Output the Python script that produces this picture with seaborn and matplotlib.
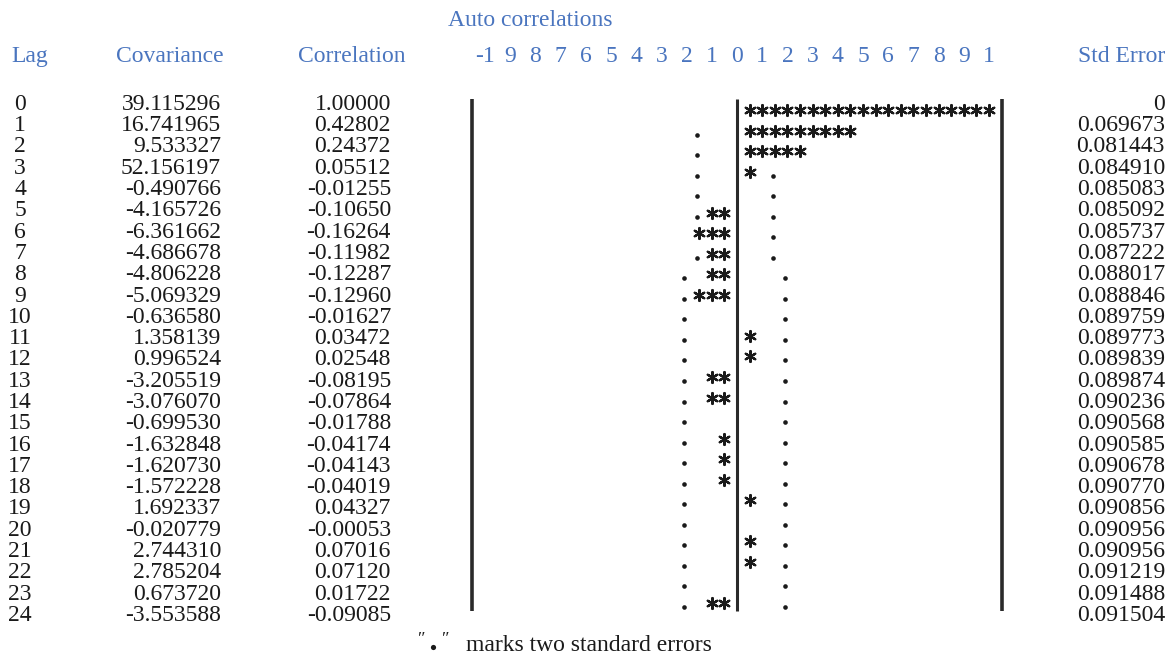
import numpy as np
import pandas as pd
import matplotlib
matplotlib.use("Agg")
import matplotlib.pyplot as plt
import seaborn as sns

# ---------------- data ----------------
lags = list(range(25))
covariance = ["39.115296", "16.741965", "9.533327", "52.156197", "-0.490766",
              "-4.165726", "-6.361662", "-4.686678", "-4.806228", "-5.069329",
              "-0.636580", "1.358139", "0.996524", "-3.205519", "-3.076070",
              "-0.699530", "-1.632848", "-1.620730", "-1.572228", "1.692337",
              "-0.020779", "2.744310", "2.785204", "0.673720", "-3.553588"]
correlation = [1.00000, 0.42802, 0.24372, 0.05512, -0.01255, -0.10650, -0.16264,
               -0.11982, -0.12287, -0.12960, -0.01627, 0.03472, 0.02548, -0.08195,
               -0.07864, -0.01788, -0.04174, -0.04143, -0.04019, 0.04327, -0.00053,
               0.07016, 0.07120, 0.01722, -0.09085]
std_error = ["0", "0.069673", "0.081443", "0.084910", "0.085083", "0.085092",
             "0.085737", "0.087222", "0.088017", "0.088846", "0.089759", "0.089773",
             "0.089839", "0.089874", "0.090236", "0.090568", "0.090585", "0.090678",
             "0.090770", "0.090856", "0.090956", "0.090956", "0.091219", "0.091488",
             "0.091504"]
scale_labels = ["-1", "9", "8", "7", "6", "5", "4", "3", "2", "1", "0",
                "1", "2", "3", "4", "5", "6", "7", "8", "9", "1"]
headers = ["Lag", "Covariance", "Correlation", "Std Error"]
title = "Auto correlations"
footer = "marks two standard errors"

# ---------------- layout ----------------
W, H = 1173, 656
X0, XS = 737.0, 252.0          # pixel of zero correlation, pixels per unit correlation
CELL = 0.05                    # one asterisk = 0.05 correlation
TEXT_Y0, TEXT_DY = 102.0, 21.3
CHART_Y0, CHART_DY = 110.0, 20.54
BASE = 7.8                     # centre-to-baseline offset for digits/caps
BLUE = "#4a75bf"
INK = "#1a1a1a"
FS = 17

sns.set_theme(style="white")
plt.rcParams["font.family"] = ["Liberation Serif", "DejaVu Serif"]

fig = plt.figure(figsize=(W / 100, H / 100), dpi=100)
ax = fig.add_axes([0, 0, 1, 1])
ax.set_xlim((0 - X0) / XS, (W - X0) / XS)
ax.set_ylim(H, 0)
ax.axis("off")


def px(x):
    return (x - X0) / XS


def put(x, y, s, color=INK, ha="center", fs=FS):
    ax.text(x, y + BASE, s, color=color, fontsize=fs, ha=ha, va="baseline")


# ---------------- asterisks and 2-SE dots ----------------
rows_star = []
rows_dot = []
for lag, r, se in zip(lags, correlation, std_error):
    n = int(round(abs(r) / CELL))
    sgn = 1 if r >= 0 else -1
    occupied = set()
    for j in range(1, n + 1):
        rows_star.append({"x": sgn * j * CELL, "y": CHART_Y0 + lag * CHART_DY})
        occupied.add(sgn * j)
    s = float(se)
    if s > 0:
        m = int(round(2 * s / CELL))
        for side in (-1, 1):
            if side * m not in occupied:
                rows_dot.append({"x": side * m * CELL - 0.009,
                                 "y": CHART_Y0 + lag * CHART_DY + 4})

stars = pd.DataFrame(rows_star)
dots = pd.DataFrame(rows_dot)
sns.scatterplot(data=stars, x="x", y="y", ax=ax, marker=(6, 2, 0), s=62,
                color=INK, linewidth=1.6, edgecolor=INK, legend=False)
sns.scatterplot(data=dots, x="x", y="y", ax=ax, marker="o", s=11,
                color=INK, linewidth=0, legend=False)

# frame lines
ax.vlines([-21 * CELL, 21 * CELL], 99, 611, color="#2a2a2a", lw=2.6)
ax.vlines([0], 99, 611, color="#2a2a2a", lw=2.2)

# ---------------- header ----------------
put(px(530), 18, title, color=BLUE)
put(px(30), 54, headers[0], color=BLUE)
put(px(170), 54, headers[1], color=BLUE)
put(px(352), 54, headers[2], color=BLUE)
put(px(1165), 54, headers[3], color=BLUE, ha="right")
for i, lab in enumerate(scale_labels):
    v = (i - 10) / 10
    put(v, 54, lab, color=BLUE)

# ---------------- table columns ----------------
for lag, cov, r, se in zip(lags, covariance, correlation, std_error):
    y = TEXT_Y0 + lag * TEXT_DY
    put(px(20), y, str(lag))
    put(px(221), y, cov, ha="right")
    put(px(391), y, f"{r:.5f}", ha="right")
    put(px(1165), y, se, ha="right")

# ---------------- footer ----------------
ax.text(px(421), 640, "\u2033", color=INK, fontsize=13, ha="center", va="center")
ax.text(px(445), 640, "\u2033", color=INK, fontsize=13, ha="center", va="center")
ax.scatter([px(433)], [647], s=14, color=INK, linewidth=0)
put(px(466), 643, footer, ha="left")

fig.savefig("out.png", dpi=100)
